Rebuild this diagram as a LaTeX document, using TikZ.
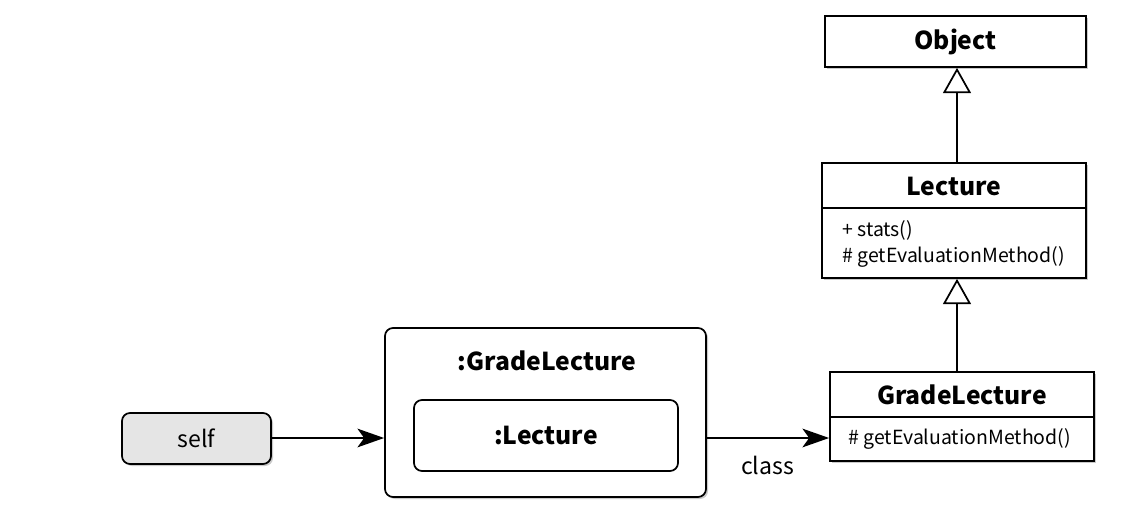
\documentclass[tikz,border=0pt]{standalone}
\usepackage{fontspec}
\setmainfont{Noto Sans CJK KR}
\usetikzlibrary{shadows,arrows.meta}
\begin{document}
\begin{tikzpicture}[x=0.75pt,y=-0.75pt,
  shd/.style={drop shadow={shadow xshift=1.5pt,shadow yshift=-1.5pt,opacity=0.35,fill=black!60}},
  cls/.style={draw=black,line width=1.3pt,fill=white,shd,inner sep=0pt,rectangle},
  obj/.style={draw=black,line width=1.3pt,fill=white,shd,inner sep=0pt,rounded corners=6pt},
  title/.style={font=\bfseries\fontsize{18.5}{20}\selectfont,inner sep=0pt},
  member/.style={font=\fontsize{14.6}{16}\selectfont,inner sep=0pt,anchor=west},
  conn/.style={line width=1.3pt,-{Stealth[length=20pt,width=14pt,inset=5pt]}},
  inh/.style={line width=1.3pt,-{Triangle[open,length=19pt,width=21pt,fill=white]}}]
\useasboundingbox (0,0) rectangle (1136,510);
% Object
\node[cls,minimum width=261*0.75pt,minimum height=51*0.75pt] (object) at (955.5,41.5) {};
\node[title] (objectT) at (object.center) {Object};
% Lecture
\node[cls,minimum width=264*0.75pt,minimum height=115*0.75pt] (lecture) at (954,220.5) {};
\coordinate (lsepL) at (822,208);
\coordinate (lsepR) at (1086,208);
\draw[line width=1.3pt] (lsepL) -- (lsepR);
\node[title] (lectureT) at (954,186) {Lecture};
\node[member] (lm1) at (842,230) {+ stats()};
\node[member] (lm2) at (842,257) {\# getEvaluationMethod()};
% GradeLecture class
\node[cls,minimum width=264*0.75pt,minimum height=89*0.75pt] (grade) at (962,416.5) {};
\coordinate (gsepL) at (830,417);
\coordinate (gsepR) at (1094,417);
\draw[line width=1.3pt] (gsepL) -- (gsepR);
\node[title] (gradeT) at (962,395) {GradeLecture};
\node[member] (gm1) at (848,439) {\# getEvaluationMethod()};
% instance objects
\node[obj,minimum width=321*0.75pt,minimum height=169*0.75pt] (outer) at (545.5,412.5) {};
\node[title] (outerT) at (547,361) {:GradeLecture};
\node[draw=black,line width=1.3pt,fill=white,inner sep=0pt,rounded corners=6pt,minimum width=264*0.75pt,minimum height=71*0.75pt] (inner) at (546,435.5) {};
\node[title] (innerT) at (inner.center) {:Lecture};
% self
\node[obj,fill=black!10,minimum width=149*0.75pt,minimum height=51*0.75pt,font=\fontsize{17.3}{19}\selectfont] (self) at (196.5,438.5) {self};
% connectors
\coordinate (s1) at (271,438);
\draw[conn] (s1) -- (outer.west|-s1);
\coordinate (o1) at (706,438);
\draw[conn] (o1) -- (grade.west|-o1) node[pos=0.5,below=13pt,font=\fontsize{17.3}{19}\selectfont,inner sep=0pt] (clsL) {class};
\coordinate (l1) at (957,163);
\draw[inh] (lecture.north-|l1) -- (object.south-|l1);
\draw[inh] (grade.north-|l1) -- (lecture.south-|l1);
\end{tikzpicture}
\end{document}
